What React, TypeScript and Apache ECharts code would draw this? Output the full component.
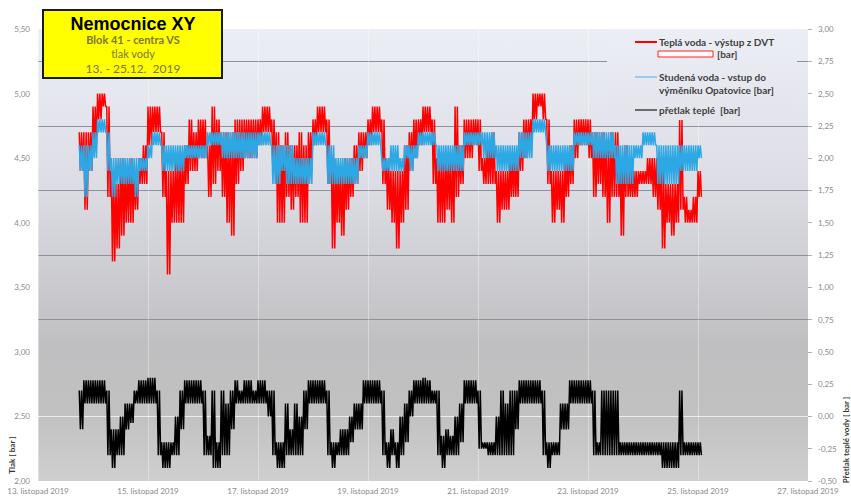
import React, { useEffect, useRef } from 'react';
import * as echarts from 'echarts';

// x axis: days since 13. listopad 2019 00:00
const xTickLabels = [
  '13. listopad 2019', '15. listopad 2019', '17. listopad 2019', '19. listopad 2019',
  '21. listopad 2019', '23. listopad 2019', '25. listopad 2019', '27. listopad 2019',
];

// samples every 2 hours starting 13.11. 18:00 (day 0.75)
const startDay = 0.75;
const stepDays = 1 / 12;

// Teplá voda - výstup z DVT (left axis) : upper / lower reading of each 2h slot
const redHi = [
  4.7, 4.7, 4.7, 4.9, 5.0, 5.0, 4.9, 4.4, 4.3, 4.5, 4.4, 4.5,
  4.4, 4.5, 4.6, 4.9, 4.9, 4.9, 4.7, 4.4, 4.4, 4.5, 4.5, 4.6,
  4.8, 4.7, 4.8, 4.8, 4.6, 4.9, 4.8, 4.7, 4.7, 4.7, 4.8, 4.8,
  4.8, 4.8, 4.8, 4.8, 4.9, 4.9, 4.8, 4.7, 4.6, 4.7, 4.6, 4.6,
  4.7, 4.6, 4.7, 4.8, 4.9, 4.9, 4.8, 4.5, 4.4, 4.4, 4.5, 4.5,
  4.6, 4.7, 4.7, 4.8, 4.9, 4.9, 4.8, 4.5, 4.4, 4.4, 4.4, 4.6,
  4.7, 4.8, 4.8, 4.9, 4.9, 4.8, 4.5, 4.5, 4.5, 4.5, 4.9, 4.6,
  4.8, 4.8, 4.8, 4.8, 4.5, 4.6, 4.7, 4.4, 4.4, 4.4, 4.5, 4.5,
  4.7, 4.8, 4.8, 5.0, 5.0, 5.0, 4.8, 4.4, 4.4, 4.4, 4.5, 4.6,
  4.8, 4.8, 4.8, 4.8, 4.7, 4.7, 4.7, 4.6, 4.7, 4.7, 4.5, 4.6,
  4.4, 4.4, 4.4, 4.4, 4.5, 4.5, 4.5, 4.4, 4.3, 4.3, 4.3, 4.8,
  4.2, 4.1, 4.2, 4.4,
];
const redLo = [
  4.4, 4.1, 4.4, 4.6, 4.8, 4.9, 4.2, 3.7, 3.8, 3.9, 4.0, 4.0,
  4.1, 4.3, 4.3, 4.6, 4.7, 4.7, 4.2, 3.6, 4.0, 4.0, 4.0, 4.3,
  4.4, 4.4, 4.5, 4.5, 4.2, 4.3, 4.4, 4.2, 4.0, 3.9, 4.3, 4.4,
  4.5, 4.5, 4.5, 4.6, 4.7, 4.7, 4.4, 4.0, 4.0, 4.2, 4.1, 4.2,
  4.0, 4.0, 4.4, 4.6, 4.7, 4.7, 4.3, 3.8, 4.0, 3.9, 4.1, 4.2,
  4.3, 4.4, 4.5, 4.6, 4.7, 4.7, 4.3, 4.1, 4.0, 3.8, 4.0, 4.1,
  4.4, 4.5, 4.6, 4.7, 4.7, 4.3, 4.0, 4.0, 4.1, 4.0, 4.2, 4.3,
  4.5, 4.5, 4.6, 4.4, 4.3, 4.3, 4.3, 4.0, 4.1, 4.1, 4.2, 4.2,
  4.4, 4.5, 4.6, 4.8, 4.9, 4.8, 4.3, 4.0, 4.1, 4.0, 4.2, 4.3,
  4.5, 4.6, 4.6, 4.5, 4.2, 4.3, 4.2, 4.0, 4.2, 4.2, 3.9, 4.2,
  4.2, 4.2, 4.3, 4.3, 4.3, 4.2, 4.1, 3.8, 4.0, 3.9, 4.0, 4.1,
  4.0, 4.0, 4.0, 4.2,
];

// Studená voda - vstup do výměníku Opatovice (left axis)
const blueHi = [
  4.6, 4.6, 4.6, 4.7, 4.8, 4.8, 4.7, 4.5, 4.5, 4.5, 4.5, 4.5,
  4.5, 4.5, 4.5, 4.6, 4.7, 4.7, 4.6, 4.6, 4.6, 4.6, 4.6, 4.6,
  4.6, 4.6, 4.6, 4.6, 4.7, 4.7, 4.7, 4.7, 4.7, 4.7, 4.7, 4.7,
  4.7, 4.7, 4.7, 4.7, 4.7, 4.7, 4.6, 4.6, 4.6, 4.6, 4.6, 4.5,
  4.5, 4.5, 4.5, 4.7, 4.7, 4.7, 4.6, 4.6, 4.5, 4.5, 4.5, 4.5,
  4.5, 4.6, 4.6, 4.7, 4.7, 4.7, 4.5, 4.5, 4.6, 4.6, 4.5, 4.6,
  4.6, 4.6, 4.7, 4.7, 4.7, 4.7, 4.6, 4.6, 4.6, 4.6, 4.6, 4.6,
  4.7, 4.7, 4.7, 4.7, 4.7, 4.7, 4.7, 4.6, 4.6, 4.6, 4.6, 4.6,
  4.7, 4.7, 4.7, 4.8, 4.8, 4.8, 4.6, 4.6, 4.6, 4.6, 4.6, 4.6,
  4.7, 4.7, 4.7, 4.7, 4.7, 4.7, 4.7, 4.7, 4.7, 4.6, 4.6, 4.6,
  4.6, 4.6, 4.6, 4.7, 4.7, 4.7, 4.6, 4.6, 4.6, 4.6, 4.6, 4.6,
  4.6, 4.6, 4.6, 4.6,
];
const blueLo = [
  4.4, 4.2, 4.4, 4.5, 4.7, 4.7, 4.4, 4.2, 4.3, 4.3, 4.3, 4.3,
  4.2, 4.4, 4.4, 4.5, 4.6, 4.6, 4.4, 4.4, 4.4, 4.4, 4.4, 4.5,
  4.5, 4.5, 4.5, 4.5, 4.6, 4.6, 4.6, 4.5, 4.5, 4.5, 4.5, 4.5,
  4.5, 4.5, 4.5, 4.6, 4.6, 4.6, 4.3, 4.3, 4.4, 4.3, 4.3, 4.3,
  4.3, 4.3, 4.3, 4.6, 4.6, 4.6, 4.3, 4.3, 4.3, 4.3, 4.3, 4.3,
  4.3, 4.5, 4.5, 4.6, 4.6, 4.6, 4.4, 4.4, 4.4, 4.4, 4.4, 4.5,
  4.4, 4.5, 4.6, 4.6, 4.6, 4.6, 4.4, 4.4, 4.4, 4.4, 4.4, 4.4,
  4.6, 4.6, 4.6, 4.6, 4.5, 4.5, 4.5, 4.4, 4.4, 4.4, 4.4, 4.4,
  4.5, 4.5, 4.5, 4.7, 4.7, 4.7, 4.4, 4.4, 4.4, 4.4, 4.4, 4.4,
  4.6, 4.6, 4.6, 4.6, 4.5, 4.5, 4.5, 4.5, 4.5, 4.3, 4.3, 4.3,
  4.3, 4.5, 4.5, 4.6, 4.6, 4.6, 4.3, 4.3, 4.3, 4.3, 4.3, 4.4,
  4.4, 4.4, 4.4, 4.5,
];

// přetlak teplé (right axis)
const blackHi = [
  0.2, 0.28, 0.28, 0.28, 0.28, 0.28, 0.2, -0.1, -0.1, 0.0, 0.1, 0.1,
  0.2, 0.28, 0.28, 0.3, 0.3, 0.2, -0.2, -0.2, -0.2, 0.0, 0.2, 0.28,
  0.28, 0.28, 0.28, 0.2, -0.15, 0.2, -0.2, 0.2, 0.1, 0.2, 0.28, 0.2,
  0.28, 0.28, 0.2, 0.28, 0.28, 0.2, 0.2, -0.2, -0.2, 0.1, -0.1, 0.1,
  0.0, 0.2, 0.28, 0.28, 0.28, 0.28, 0.2, -0.2, -0.2, -0.1, -0.1, 0.0,
  0.1, 0.1, 0.28, 0.28, 0.28, 0.28, 0.2, -0.2, -0.1, -0.2, 0.0, 0.1,
  0.2, 0.28, 0.28, 0.3, 0.28, 0.2, 0.2, -0.15, -0.1, -0.15, 0.0, 0.1,
  0.28, 0.28, 0.28, 0.2, -0.2, -0.2, -0.2, 0.0, 0.2, 0.1, 0.2, 0.2,
  0.28, 0.28, 0.28, 0.28, 0.28, 0.2, -0.2, -0.2, -0.2, 0.1, 0.1, 0.28,
  0.28, 0.28, 0.28, 0.28, 0.2, -0.2, 0.2, 0.2, 0.2, 0.2, -0.2, -0.2,
  -0.2, -0.2, -0.2, -0.2, -0.2, -0.2, -0.2, -0.2, -0.2, -0.2, -0.2, 0.2,
  -0.2, -0.2, -0.2, -0.2,
];
const blackLo = [
  -0.1, 0.1, 0.1, 0.1, 0.1, 0.1, -0.3, -0.4, -0.3, -0.3, -0.1, -0.05,
  0.1, 0.1, 0.1, 0.1, 0.1, -0.3, -0.4, -0.4, -0.3, -0.3, -0.1, 0.1,
  0.1, 0.1, 0.1, -0.3, -0.3, -0.4, -0.4, -0.3, -0.3, -0.1, 0.1, 0.1,
  0.1, 0.1, 0.1, 0.1, 0.1, 0.0, -0.3, -0.4, -0.4, -0.3, -0.3, -0.3,
  -0.3, -0.1, 0.1, 0.1, 0.1, 0.1, -0.3, -0.4, -0.3, -0.3, -0.3, -0.2,
  -0.1, -0.1, 0.1, 0.1, 0.1, 0.1, -0.3, -0.4, -0.3, -0.4, -0.3, -0.2,
  0.0, 0.1, 0.1, 0.1, 0.1, 0.1, -0.3, -0.4, -0.3, -0.3, -0.3, -0.2,
  0.1, 0.1, 0.1, -0.25, -0.25, -0.3, -0.3, -0.3, -0.3, -0.3, -0.3, -0.1,
  0.1, 0.1, 0.1, 0.1, 0.1, -0.3, -0.4, -0.3, -0.3, -0.1, -0.1, 0.1,
  0.1, 0.1, 0.1, 0.1, -0.3, -0.3, -0.3, -0.3, -0.3, -0.3, -0.3, -0.3,
  -0.3, -0.3, -0.3, -0.3, -0.3, -0.3, -0.3, -0.4, -0.4, -0.4, -0.4, -0.3,
  -0.3, -0.3, -0.3, -0.3,
];

const seriesNames = [
  'Teplá voda - výstup z DVT [bar]',
  'Studená voda - vstup do výměníku Opatovice [bar]',
  'přetlak teplé  [bar]',
];

// the logged signal toggles quickly between the upper and lower reading of each slot
function toTrace(hi: number[], lo: number[]) {
  const out: number[][] = [];
  for (let i = 0; i < hi.length; i++) {
    const t = startDay + i * stepDays;
    out.push([t, hi[i]]);
    out.push([t + stepDays / 4, lo[i]]);
    out.push([t + stepDays / 2, hi[i]]);
    out.push([t + (3 * stepDays) / 4, lo[i]]);
  }
  return out;
}

const fmt = (v: number) => v.toFixed(2).replace('.', ',');
const FONT = 'Lato, "Liberation Sans", sans-serif';
const GRID = '#8e90a0';
const T = 'rgba(0,0,0,0)';

export default function App() {
  const ref = useRef<HTMLDivElement>(null);
  useEffect(() => {
    const chart = echarts.init(ref.current!, null, { renderer: 'svg' });
    const option: any = {
      animation: false,
      backgroundColor: '#ffffff',
      grid: {
        left: 38, right: 43, top: 29, bottom: 16,
        show: true,
        borderWidth: 0,
        backgroundColor: new echarts.graphic.LinearGradient(0, 0, 0, 1, [
          { offset: 0, color: '#eceef6' },
          { offset: 0.35, color: '#dcdde4' },
          { offset: 0.7, color: '#bfbfc1' },
          { offset: 0.85, color: '#c1c1c1' },
          { offset: 1, color: '#cfcfcf' },
        ]),
      },
      xAxis: {
        type: 'value', min: 0, max: 14, interval: 2,
        axisLine: { show: false }, axisTick: { show: false },
        axisLabel: {
          color: '#8a8a8a', fontSize: 8, fontFamily: FONT, margin: 6,
          formatter: (v: number) => xTickLabels[Math.round(v / 2)] ?? '',
        },
        splitLine: { show: true, lineStyle: { color: 'rgba(255,255,255,0.35)', width: 1 } },
      },
      yAxis: [
        {
          type: 'value', min: 2, max: 5.5, interval: 0.5, position: 'left',
          axisLine: { show: false }, axisTick: { show: false },
          axisLabel: { color: '#8a8a8a', fontSize: 8, fontFamily: FONT, margin: 8, formatter: fmt },
          splitLine: { show: false },
        },
        {
          type: 'value', min: -0.5, max: 3, interval: 0.25, position: 'right',
          axisLine: { show: false },
          axisTick: { show: true, length: 4, lineStyle: { color: '#b0b0b0' } },
          axisLabel: { color: '#8a8a8a', fontSize: 8, fontFamily: FONT, margin: 10, formatter: fmt },
          splitLine: {
            show: true,
            lineStyle: {
              width: 1,
              color: [T, T, 'rgba(255,255,255,0.7)', T, T, GRID, T, GRID, T, GRID, T, GRID, T, GRID, T],
            },
          },
        },
      ],
      series: [
        {
          name: seriesNames[0], type: 'line', yAxisIndex: 0, data: toTrace(redHi, redLo),
          showSymbol: false, symbol: 'none', lineStyle: { color: '#ff0000', width: 1.5 },
          itemStyle: { color: '#ff0000' }, z: 2,
        },
        {
          name: seriesNames[1], type: 'line', yAxisIndex: 0, data: toTrace(blueHi, blueLo),
          showSymbol: false, symbol: 'none', lineStyle: { color: '#2ea8e4', width: 1.5 },
          itemStyle: { color: '#2ea8e4' }, z: 3,
        },
        {
          name: seriesNames[2], type: 'line', yAxisIndex: 1, data: toTrace(blackHi, blackLo),
          showSymbol: false, symbol: 'none', lineStyle: { color: '#000000', width: 1.5 },
          itemStyle: { color: '#000000' }, z: 4,
        },
      ],
      graphic: [
        // legend box
        {
          type: 'rect', shape: { x: 607, y: 30, width: 190, height: 90 },
          style: {
            fill: new echarts.graphic.LinearGradient(0, 0, 0, 1, [
              { offset: 0, color: '#eceef6' },
              { offset: 1, color: '#e3e4eb' },
            ]),
          },
          z: 5,
        },
        { type: 'line', shape: { x1: 635, y1: 42, x2: 657, y2: 42 }, style: { stroke: '#ff0000', lineWidth: 2 }, z: 6 },
        { type: 'text', x: 659, y: 42, style: { text: 'Teplá voda - výstup z DVT', fill: '#404040', font: `bold 10px ${FONT}`, verticalAlign: 'middle', textVerticalAlign: 'middle' }, z: 6 },
        { type: 'rect', shape: { x: 658, y: 51, width: 55, height: 6 }, style: { fill: '#ffffff', stroke: '#ff2020', lineWidth: 1 }, z: 6 },
        { type: 'text', x: 717, y: 54, style: { text: '[bar]', fill: '#404040', font: `bold 10px ${FONT}`, verticalAlign: 'middle', textVerticalAlign: 'middle' }, z: 6 },
        { type: 'line', shape: { x1: 635, y1: 77, x2: 657, y2: 77 }, style: { stroke: '#9cc8ea', lineWidth: 2 }, z: 6 },
        { type: 'text', x: 659, y: 77, style: { text: 'Studená voda - vstup do', fill: '#404040', font: `bold 10px ${FONT}`, verticalAlign: 'middle', textVerticalAlign: 'middle' }, z: 6 },
        { type: 'text', x: 659, y: 90, style: { text: 'výměníku Opatovice [bar]', fill: '#404040', font: `bold 10px ${FONT}`, verticalAlign: 'middle', textVerticalAlign: 'middle' }, z: 6 },
        { type: 'line', shape: { x1: 635, y1: 110, x2: 657, y2: 110 }, style: { stroke: '#404040', lineWidth: 1.5 }, z: 6 },
        { type: 'text', x: 659, y: 110, style: { text: 'přetlak teplé  [bar]', fill: '#404040', font: `bold 10px ${FONT}`, verticalAlign: 'middle', textVerticalAlign: 'middle' }, z: 6 },
        // title box
        { type: 'rect', shape: { x: 43, y: 10, width: 179, height: 68 }, style: { fill: '#ffff00', stroke: '#1a1a1a', lineWidth: 2 }, z: 7 },
        { type: 'text', x: 133, y: 24, style: { text: 'Nemocnice XY', fill: '#000000', font: 'bold 18px "Liberation Sans", Arial, sans-serif', align: 'center', textAlign: 'center', verticalAlign: 'middle', textVerticalAlign: 'middle' }, z: 8 },
        { type: 'text', x: 133, y: 39, style: { text: 'Blok 41 - centra VS', fill: '#7e7632', font: `bold 11px ${FONT}`, align: 'center', textAlign: 'center', verticalAlign: 'middle', textVerticalAlign: 'middle' }, z: 8 },
        { type: 'text', x: 133, y: 53, style: { text: 'tlak vody', fill: '#7e7632', font: `11px ${FONT}`, align: 'center', textAlign: 'center', verticalAlign: 'middle', textVerticalAlign: 'middle' }, z: 8 },
        { type: 'text', x: 133, y: 68, style: { text: '13. - 25.12.  2019', fill: '#7e7632', font: `12px ${FONT}`, align: 'center', textAlign: 'center', verticalAlign: 'middle', textVerticalAlign: 'middle' }, z: 8 },
        // axis names
        { type: 'text', x: 12, y: 455, rotation: Math.PI / 2, style: { text: 'Tlak [ bar ]', fill: '#333333', font: `bold 8px ${FONT}`, align: 'center', textAlign: 'center', verticalAlign: 'middle', textVerticalAlign: 'middle' }, z: 8 },
        { type: 'text', x: 846, y: 440, rotation: Math.PI / 2, style: { text: 'Přetlak teplé vody [ bar ]', fill: '#333333', font: `bold 8px ${FONT}`, align: 'center', textAlign: 'center', verticalAlign: 'middle', textVerticalAlign: 'middle' }, z: 8 },
      ],
    };
    chart.setOption(option);
    return () => chart.dispose();
  }, []);
  return <div ref={ref} style={{ position: 'fixed', left: 0, top: 0, width: 851, height: 497 }} />;
}
